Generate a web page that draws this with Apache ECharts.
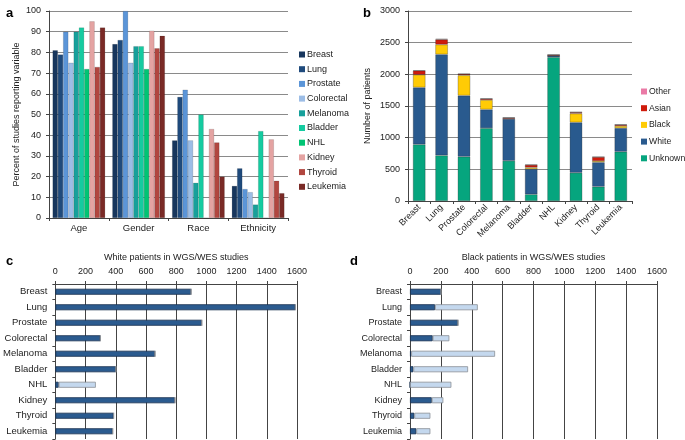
<!DOCTYPE html>
<html>
<head>
<meta charset="utf-8">
<script src="https://cdn.jsdelivr.net/npm/echarts@6/dist/echarts.min.js"></script>
<style>
  html, body { margin: 0; padding: 0; background: #fff; }
  #container { width: 685px; height: 440px; }
</style>
</head>
<body>
<div id="container"></div>
<script>
var dom = document.getElementById('container');
var myChart = echarts.init(dom, null, { renderer: 'canvas' });

var FONT = 'Liberation Sans, Arial, sans-serif';

// panel a
var variables = ['Age', 'Gender', 'Race', 'Ethnicity'];
var cancers = ['Breast', 'Lung', 'Prostate', 'Colorectal', 'Melanoma', 'Bladder', 'NHL', 'Kidney', 'Thyroid', 'Leukemia'];
var cancerColors = ['#17365d', '#1f4a7c', '#5b95d8', '#9cbde6', '#17a09b', '#15cba0', '#00c474', '#e4a3a2', '#b1463f', '#7a2a26'];
var pctBreast = [81, 84, 37.5, 15.5];
var pctLung = [79, 86, 58.5, 24];
var pctProstate = [90, 100, 62, 14];
var pctColorectal = [75, 75, 37.5, 12.5];
var pctMelanoma = [90, 83, 17, 6.5];
var pctBladder = [92, 83, 50, 42];
var pctNHL = [72, 72, 0, 0];
var pctKidney = [95, 90.5, 43, 38];
var pctThyroid = [73, 82, 36.5, 18];
var pctLeukemia = [92, 88, 20, 12];
var pctAll = [pctBreast, pctLung, pctProstate, pctColorectal, pctMelanoma, pctBladder, pctNHL, pctKidney, pctThyroid, pctLeukemia];

// panel b
var raceNames = ['Unknown', 'White', 'Black', 'Asian', 'Other'];
var raceColors = ['#06a57e', '#295a8e', '#ffcb05', '#cf1b0c', '#ea7aa6'];
var nUnknown = [893, 720, 700, 1150, 635, 105, 2270, 446, 226, 778];
var nWhite = [900, 1595, 965, 295, 660, 400, 25, 795, 384, 373];
var nBlack = [200, 155, 320, 150, 5, 25, 0, 140, 21, 34];
var nAsian = [65, 80, 20, 20, 15, 40, 15, 20, 63, 20];
var nOther = [5, 10, 5, 5, 5, 5, 0, 5, 5, 5];
var nAll = [nUnknown, nWhite, nBlack, nAsian, nOther];

// panel c
var whiteDark = [899, 1589, 970, 298, 660, 401, 22, 792, 386, 380];
var whiteLight = [0, 0, 0, 0, 0, 0, 246, 0, 0, 0];
// panel d
var blackDark = [201, 162, 311, 147, 8, 22, 0, 141, 28, 41];
var blackLight = [0, 277, 0, 108, 543, 354, 268, 75, 104, 91];

var plain = function (v) { return String(v); };
var labelStyle = { fontFamily: FONT, fontSize: 9, color: '#222', formatter: plain };
var axisLine = { show: true, lineStyle: { color: '#444', width: 1 } };

var series = [];
cancers.forEach(function (name, i) {
  series.push({
    name: name,
    type: 'bar',
    xAxisIndex: 0,
    yAxisIndex: 0,
    barGap: '0%',
    barCategoryGap: '12%',
    itemStyle: { color: cancerColors[i], borderColor: 'rgba(0,0,0,0.25)', borderWidth: 0.5 },
    data: pctAll[i]
  });
});
raceNames.forEach(function (name, i) {
  series.push({
    name: name,
    type: 'bar',
    stack: 'race',
    xAxisIndex: 1,
    yAxisIndex: 1,
    barWidth: '56%',
    itemStyle: { color: raceColors[i], borderColor: 'rgba(30,30,30,0.45)', borderWidth: 0.6 },
    data: nAll[i]
  });
});
[[whiteDark, whiteLight, 2], [blackDark, blackLight, 3]].forEach(function (p) {
  series.push({
    name: 'dark' + p[2],
    type: 'bar',
    stack: 's' + p[2],
    xAxisIndex: p[2],
    yAxisIndex: p[2],
    barWidth: 6,
    itemStyle: { color: '#2b5b8f', borderColor: '#18304f', borderWidth: 0.8 },
    data: p[0]
  });
  series.push({
    name: 'light' + p[2],
    type: 'bar',
    stack: 's' + p[2],
    xAxisIndex: p[2],
    yAxisIndex: p[2],
    barWidth: 6,
    itemStyle: { color: '#c4d8ee', borderColor: '#8a8f96', borderWidth: 0.8 },
    data: p[1]
  });
});

var panelTitle = function (t, x, y) {
  return { text: t, left: x, top: y, textStyle: { fontFamily: FONT, fontSize: 13, fontWeight: 'bold', color: '#000' } };
};

var option = {
  animation: false,
  title: [panelTitle('a', 1, 2), panelTitle('b', 358, 2), panelTitle('c', 1, 250), panelTitle('d', 345, 250)],
  legend: [
    {
      data: cancers,
      orient: 'vertical',
      left: 294,
      top: 45,
      itemWidth: 6,
      itemHeight: 6,
      itemGap: 5.7,
      icon: 'rect',
      itemStyle: { borderWidth: 0 },
      textStyle: { fontFamily: FONT, fontSize: 9, color: '#222', padding: [0, 0, 0, -3] }
    },
    {
      data: raceNames.slice().reverse(),
      orient: 'vertical',
      left: 641,
      top: 87,
      padding: 0,
      itemWidth: 6,
      itemHeight: 6,
      itemGap: 7.7,
      icon: 'rect',
      itemStyle: { borderWidth: 0 },
      textStyle: { fontFamily: FONT, fontSize: 8.7, color: '#222', padding: [0, 0, 0, -3], overflow: 'none' }
    }
  ],
  grid: [
    { left: 49, top: 11, width: 239, height: 207 },
    { left: 408, top: 11, width: 224, height: 190 },
    { left: 49, top: 284, width: 248, height: 155 },
    { left: 410, top: 284, width: 247, height: 155 }
  ],
  xAxis: [
    {
      gridIndex: 0, type: 'category', data: variables,
      axisLine: axisLine, axisTick: { show: true, length: 3, lineStyle: { color: '#444' } },
      axisLabel: { fontFamily: FONT, fontSize: 9.5, color: '#222', margin: 5 }
    },
    {
      gridIndex: 1, type: 'category', data: cancers,
      axisLine: axisLine, axisTick: { show: true, length: 3, lineStyle: { color: '#444' } },
      axisLabel: { fontFamily: FONT, fontSize: 9, color: '#222', rotate: 45, margin: 5, interval: 0 }
    },
    {
      gridIndex: 2, type: 'value', position: 'top', min: 0, max: 1600, interval: 200,
      name: 'White patients in WGS/WES studies', nameLocation: 'middle', nameGap: 22,
      nameTextStyle: { fontFamily: FONT, fontSize: 9, color: '#222' },
      axisLine: axisLine, axisTick: { show: true, length: 3, lineStyle: { color: '#444' } },
      axisLabel: labelStyle,
      splitLine: { show: true, lineStyle: { color: '#444', width: 1 } }
    },
    {
      gridIndex: 3, type: 'value', position: 'top', min: 0, max: 1600, interval: 200,
      name: 'Black patients in WGS/WES studies', nameLocation: 'middle', nameGap: 22,
      nameTextStyle: { fontFamily: FONT, fontSize: 9, color: '#222' },
      axisLine: axisLine, axisTick: { show: true, length: 3, lineStyle: { color: '#444' } },
      axisLabel: labelStyle,
      splitLine: { show: true, lineStyle: { color: '#444', width: 1 } }
    }
  ],
  yAxis: [
    {
      gridIndex: 0, type: 'value', min: 0, max: 100, interval: 10,
      name: 'Percent of studies reporting variable', nameLocation: 'middle', nameGap: 28,
      nameTextStyle: { fontFamily: FONT, fontSize: 9, color: '#222' },
      axisLine: axisLine, axisTick: { show: true, length: 3, lineStyle: { color: '#444' } },
      axisLabel: labelStyle,
      splitLine: { show: true, lineStyle: { color: '#8a8a8a', width: 1 } }
    },
    {
      gridIndex: 1, type: 'value', min: 0, max: 3000, interval: 500,
      name: 'Number of patients', nameLocation: 'middle', nameGap: 36,
      nameTextStyle: { fontFamily: FONT, fontSize: 9, color: '#222' },
      axisLine: axisLine, axisTick: { show: true, length: 3, lineStyle: { color: '#444' } },
      axisLabel: labelStyle,
      splitLine: { show: true, lineStyle: { color: '#8a8a8a', width: 1 } }
    },
    {
      gridIndex: 2, type: 'category', data: cancers, inverse: true,
      axisLine: axisLine, axisTick: { show: true, length: 3, lineStyle: { color: '#444' } },
      axisLabel: { fontFamily: FONT, fontSize: 9.5, color: '#222', margin: 8, interval: 0 }
    },
    {
      gridIndex: 3, type: 'category', data: cancers, inverse: true,
      axisLine: axisLine, axisTick: { show: true, length: 3, lineStyle: { color: '#444' } },
      axisLabel: { fontFamily: FONT, fontSize: 9, color: '#222', margin: 8, interval: 0 }
    }
  ],
  series: series
};

myChart.setOption(option);
window.addEventListener('resize', myChart.resize);
</script>
</body>
</html>
